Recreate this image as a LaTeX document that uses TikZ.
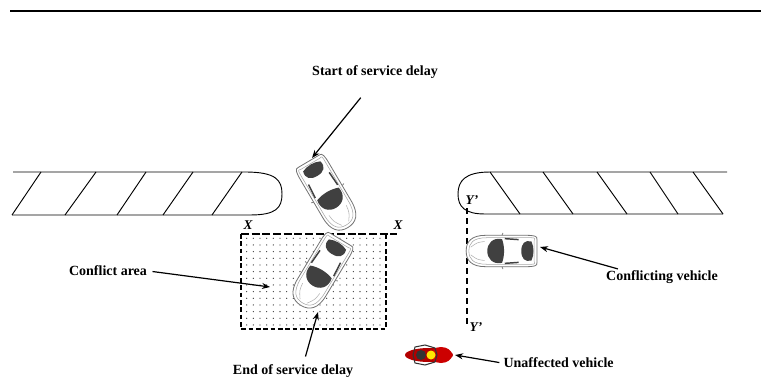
\documentclass[tikz,border=0pt]{standalone}
\usepackage{fontspec}
\setmainfont{Liberation Serif}
\usetikzlibrary{arrows.meta, patterns.meta, positioning}

\tikzset{
  lbl/.style={font=\bfseries\fontsize{10.5}{12}\selectfont, inner sep=1pt},
  axlbl/.style={font=\bfseries\itshape\fontsize{10}{11}\selectfont, inner sep=1pt},
  arr/.style={-{Stealth[length=6pt, width=4.5pt]}, line width=0.9pt},
  island/.style={line width=0.7pt},
  car/.pic={
    % body
    \draw[draw=black!55, fill=white, line width=0.6pt]
      (-38,-12) .. controls (-39,-16) and (-34,-16.5) .. (-26,-16.5)
      -- (18,-16.5) .. controls (33,-16.5) and (39,-10) .. (39,0)
      .. controls (39,10) and (33,16.5) .. (18,16.5)
      -- (-26,16.5) .. controls (-34,16.5) and (-39,16) .. (-38,12) -- cycle;
    \draw[black!35, line width=0.4pt]
      (-35,-11) .. controls (-36,-14) .. (-28,-14) -- (16,-14)
      .. controls (32,-14) and (36,-8) .. (36,0)
      .. controls (36,8) and (32,14) .. (16,14) -- (-28,14)
      .. controls (-36,14) .. (-35,11) -- cycle;
    % windows
    \fill[black!75] (0,-12.5) .. controls (10,-14.5) and (16,-8) .. (16,0)
      .. controls (16,8) and (10,14.5) .. (0,12.5)
      .. controls (-3,5) and (-3,-5) .. (0,-12.5) -- cycle;
    \fill[black!75] (-32,-10) .. controls (-35,-4) and (-35,4) .. (-32,10)
      .. controls (-25,12) and (-21,8) .. (-21,0)
      .. controls (-21,-8) and (-25,-12) .. (-32,-10) -- cycle;
    \draw[black!75, line width=1.1pt] (-18,-12) -- (-3,-13) (-18,12) -- (-3,13);
    % mirrors and hood
    \draw[black!50, line width=0.6pt] (0,-16.5) -- (-1,-19) (0,16.5) -- (-1,19);
    \draw[black!30, line width=0.4pt] (19,-10) .. controls (27,-9) .. (34,-4)
      (19,10) .. controls (27,9) .. (34,4);
  },
  bike/.pic={
    \fill[red!70!black] (0,0) ellipse [x radius=24, y radius=7];
    \fill[red!80!black] (12,0) ellipse [x radius=11, y radius=8];
    \draw[black!80, line width=0.8pt] (-14,-8) -- (-4,-10) -- (6,-7) -- (8,0)
      -- (6,7) -- (-4,10) -- (-14,8) -- (-16,0) -- cycle;
    \fill[black!80] (-8,0) circle (5);
    \fill[yellow!90!orange] (2,0) circle (4.5);
  }
}

\begin{document}
\begin{tikzpicture}[x=0.75pt, y=-0.75pt]
  \useasboundingbox (0,0) rectangle (761,385);

  % top rule
  \draw[line width=1.5pt] (10,11) -- (761,11);

  % left island
  \draw[island] (13,172) -- (245,172) .. controls (276,172) and (282,180) .. (282,194)
    .. controls (282,208) and (276,215) .. (250,215) -- (12,215);
  \foreach \b/\t in {12/41, 65/96, 117/146, 163/193, 212/242}
    \draw[island] (\b,215) -- (\t,172);

  % right island
  \draw[island] (727,172) -- (490,172) .. controls (465,172) and (458,181) .. (458,194)
    .. controls (458,207) and (465,214) .. (485,214) -- (723,214);
  \foreach \t/\b in {490/520, 543/573, 597/627, 650/678, 693/723}
    \draw[island] (\t,172) -- (\b,214);

  % conflict area
  \fill[pattern={Dots[radius=0.5pt, distance=5pt]}, pattern color=black!75]
    (241,234) rectangle (386,329);
  \draw[line width=1pt, dash pattern=on 3.5pt off 2pt]
    (241,234) -- (241,329) -- (386,329) -- (386,234);
  \draw[line width=1.7pt, dash pattern=on 6pt off 2pt] (241,234) -- (397,234);
  \node[axlbl] (xl) at (248,225) {X};
  \node[axlbl] (xr) at (398,225) {X};

  % Y'-Y' line
  \draw[line width=1pt, dash pattern=on 4.5pt off 3pt] (467,208) -- (467,325);
  \node[axlbl] (yt) at (472,200) {Y’};
  \node[axlbl] (yb) at (476,327) {Y’};

  % vehicles
  \pic[rotate=-59.5] at (328,194) {car};
  \pic[rotate=-121] at (321,272) {car};
  \pic[rotate=180, yscale=0.95, xscale=0.92] at (502,251) {car};
  \pic at (429,355) {bike};

  % labels
  \node[lbl] (start) at (375,72) {Start of service delay};
  \node[lbl] (area) at (108,271) {Conflict area};
  \node[lbl] (finish) at (293,371) {End of service delay};
  \node[lbl] (cveh) at (662,277) {Conflicting vehicle};
  \node[lbl, anchor=west] (uveh) at (502,363) {Unaffected vehicle};

  \coordinate (starttip) at (312,158);
  \coordinate (areatip) at (270,287);
  \coordinate (endtip) at (318,312);
  \coordinate (cvtip) at (540,247);
  \coordinate (bktip) at (455,355);

  % arrows
  \draw[arr, shorten <=17pt] (start.south) -- (starttip);
  \draw[arr, shorten <=3pt] (area.east) -- (areatip);
  \draw[arr, shorten <=5pt] ([xshift=8pt]finish.north) -- (endtip);
  \draw[arr] ([xshift=10pt]cveh.north west) -- (cvtip);
  \draw[arr, shorten <=2pt] (uveh.west) -- (bktip);
\end{tikzpicture}
\end{document}
